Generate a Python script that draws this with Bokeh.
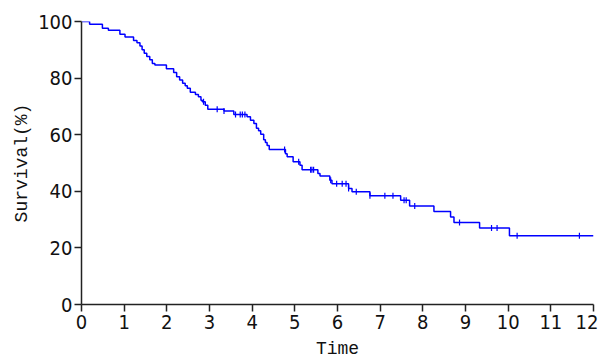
import math
from bokeh.plotting import figure
from bokeh.models import Range1d, FixedTicker
from bokeh.embed import file_html
from bokeh.resources import INLINE

# Kaplan-Meier step points: time at which survival drops, survival after drop (%)
step_times = [0.0, 0.19, 0.49, 0.63, 0.90, 1.02, 1.22, 1.30, 1.37, 1.42, 1.47, 1.53,
              1.60, 1.66, 1.72, 1.99, 2.16, 2.23, 2.30, 2.37, 2.43, 2.48, 2.55, 2.67,
              2.74, 2.80, 2.83, 2.90, 2.96, 3.34, 3.57, 3.88, 3.96, 4.04, 4.10, 4.15,
              4.20, 4.27, 4.31, 4.35, 4.40, 4.78, 4.82, 4.96, 5.12, 5.17, 5.54, 5.59,
              5.82, 5.87, 6.26, 6.34, 6.76, 7.48, 7.69, 8.26, 8.65, 8.73, 9.33, 10.03,
              12.0]
survival = [100.0, 99.0, 97.6, 96.9, 95.5, 94.5, 93.3, 92.5, 91.3, 90.0, 88.8, 87.6,
            86.5, 85.2, 84.6, 83.3, 82.0, 80.5, 79.3, 78.2, 77.3, 76.4, 75.0, 74.2,
            73.4, 72.2, 71.6, 70.4, 69.0, 68.4, 67.1, 66.3, 65.1, 64.0, 62.3, 61.4,
            60.2, 58.2, 57.2, 56.2, 54.8, 53.3, 52.2, 50.4, 49.2, 47.6, 46.3, 45.4,
            43.9, 42.7, 41.0, 39.8, 38.4, 36.8, 34.8, 32.9, 30.9, 29.0, 27.0, 24.3,
            24.3]

# censored observation times
censor_times = [2.86, 3.18, 3.34, 3.61, 3.72, 3.77, 3.83, 4.76, 5.09, 5.37, 5.40, 5.44,
                5.84, 5.98, 6.11, 6.20, 6.26, 6.44, 6.76, 7.11, 7.30, 7.56, 7.61, 7.81,
                8.86, 9.61, 9.74, 10.21, 11.67]

x_ticks = list(range(0, 13))
y_ticks = [0, 20, 40, 60, 80, 100]


def surv_at(t):
    s = survival[0]
    for tt, ss in zip(step_times, survival):
        if tt <= t:
            s = ss
        else:
            break
    return s


censor_surv = [surv_at(t) for t in censor_times]

TICK_FONT = "'Liberation Sans Narrow', 'DejaVu Sans Condensed', sans-serif"
LABEL_FONT = "Liberation Mono"

p = figure(frame_width=512, frame_height=283, output_backend="svg", toolbar_location=None,
           x_range=Range1d(0, 12), y_range=Range1d(0, 100),
           min_border_left=81, min_border_right=5, min_border_top=21,
           min_border_bottom=0)
p.outline_line_color = None
p.xgrid.visible = False
p.ygrid.visible = False

p.step(step_times, survival, mode="after", line_color="#0000ff", line_width=1.5)
p.scatter(censor_times, censor_surv, marker="dash", angle=math.pi / 2, size=6,
          line_color="#0000ff", line_width=1.2)

for ax in (p.xaxis[0], p.yaxis[0]):
    ax.axis_line_color = "#222222"
    ax.axis_line_width = 1.5
    ax.major_tick_line_color = "#222222"
    ax.major_tick_line_width = 1.5
    ax.major_tick_out = 7
    ax.major_tick_in = 0
    ax.minor_tick_line_color = None
    ax.major_label_text_font = TICK_FONT
    ax.major_label_text_font_size = "20px"
    ax.major_label_text_color = "#111111"
    ax.axis_label_text_font = LABEL_FONT
    ax.axis_label_text_font_size = "18px"
    ax.axis_label_text_font_style = "normal"
    ax.axis_label_text_color = "#111111"

p.xaxis.ticker = FixedTicker(ticks=x_ticks)
p.yaxis.ticker = FixedTicker(ticks=y_ticks)
p.xaxis.axis_label = "Time"
p.yaxis.axis_label = "Survival(%)"
p.xaxis.major_label_standoff = 3
p.yaxis.major_label_standoff = 2
p.xaxis.axis_label_standoff = 7
p.yaxis.axis_label_standoff = 3

open("out.html", "w").write(file_html(p, INLINE))
